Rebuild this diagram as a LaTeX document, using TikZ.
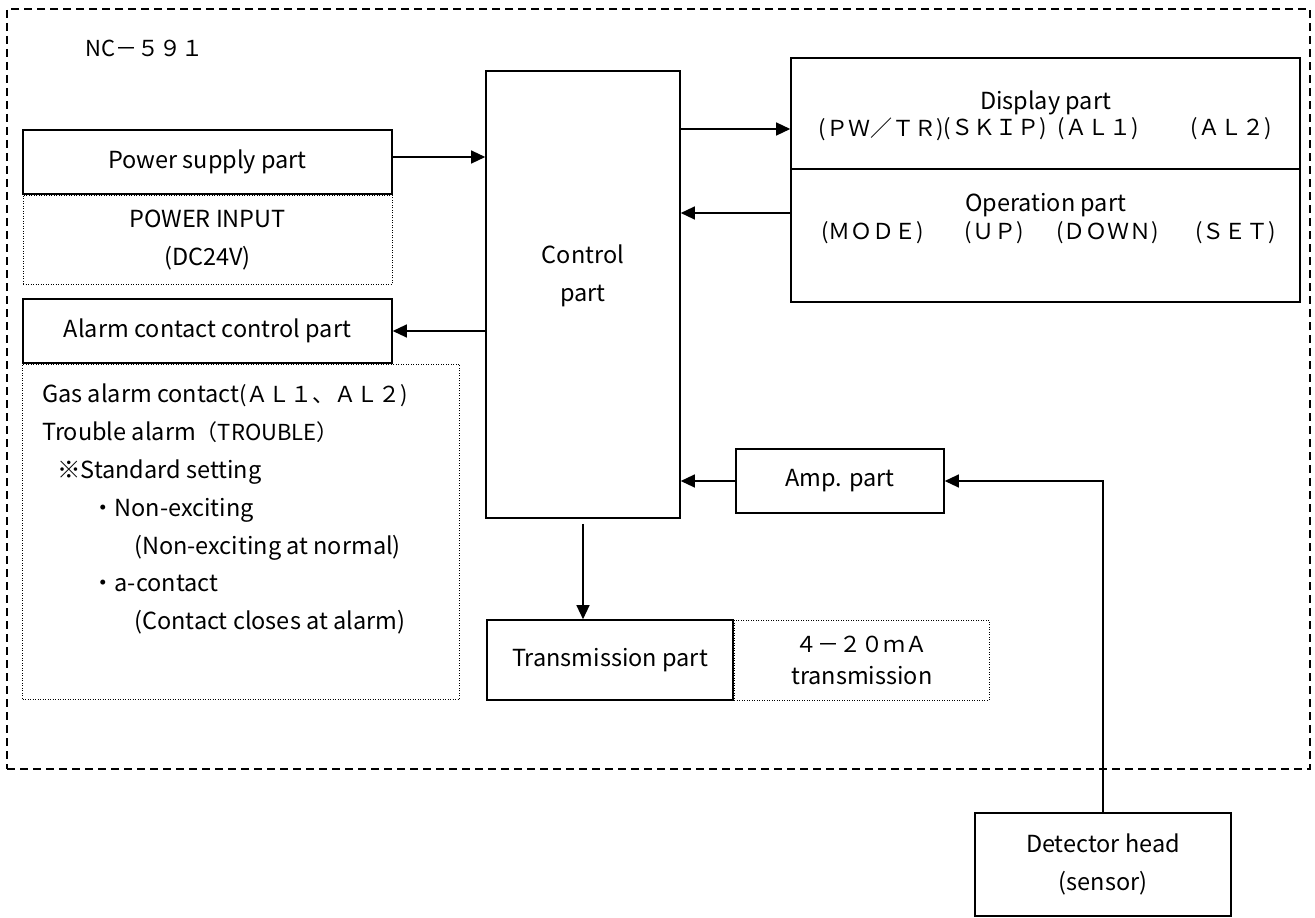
\documentclass[tikz,border=0pt]{standalone}
\usepackage{fontspec}
\newfontfamily\jpfont{Noto Sans CJK JP}
\usetikzlibrary{arrows.meta, positioning, calc}

\newcommand{\fwsize}{\fontsize{22}{33}\selectfont}

\begin{document}
\begin{tikzpicture}[
    x=1pt, y=-1pt,
    every node/.style={font=\jpfont\fontsize{23.5}{38}\selectfont, inner sep=0pt},
    box/.style={draw, line width=1.6pt, align=center},
    note/.style={draw, line width=1pt, dash pattern=on 1pt off 1.5pt, align=center},
    frame/.style={draw, line width=1.3pt, dash pattern=on 8pt off 5pt},
    keys/.style={font=\jpfont\fwsize},
    link/.style={-{Triangle[length=14pt, width=13pt]}, line width=1.3pt}
]
\useasboundingbox (0,0) rectangle (1315,918);

% Unit frame
\node[frame, minimum width=1303pt, minimum height=760pt] (unit) at (658.5,389) {};
\node[keys, anchor=west] (model) at (85,48) {NC－５９１};

% Power supply
\node[box, minimum width=369pt, minimum height=64pt] (power) at (207.5,162) {Power supply part};
\node[note, minimum width=369pt, minimum height=89pt, below=0pt of power] (powerin) {POWER INPUT\\(DC24V)};

% Alarm contacts
\node[box, minimum width=369pt, minimum height=64pt] (alarm) at (207.5,331) {Alarm contact control part};
\node[note, minimum width=437pt, minimum height=335pt, anchor=north west] (alarmnote) at (alarm.south west) {};
\node[anchor=north west, align=left, font=\jpfont\fontsize{23.5}{37.8}\selectfont] (alarmtext) at (42,384) {
Gas alarm contact{\fwsize(ＡＬ１、ＡＬ２)}\\
Trouble alarm{\fwsize（TROUBLE）}\\
\hspace*{15pt}※Standard setting\\
\hspace*{49pt}・Non-exciting\\
\hspace*{92pt}(Non-exciting at normal)\\
\hspace*{49pt}・a-contact\\
\hspace*{92pt}(Contact closes at alarm)};

% Control part
\node[box, minimum width=194pt, minimum height=447pt] (ctrl) at (583,294.5) {};
\node[align=center] (ctrllabel) at (583,276) {Control\\part};

% Display and operation
\node[box, minimum width=509pt, minimum height=111pt] (disp) at (1045.5,113.5) {};
\node (disptitle) at (1045.5,103) {Display part};
\foreach \txt/\x [count=\i] in {{(ＰＷ／ＴＲ)}/881, {(ＳＫＩＰ)}/995, {(ＡＬ１)}/1098, {(ＡＬ２)}/1231} {
    \node[keys] (dkey\i) at (\x,129) {\txt};
}
\node[box, minimum width=509pt, minimum height=133pt] (oper) at (1045.5,235.5) {};
\node (optitle) at (1045.5,205) {Operation part};
\foreach \txt/\x [count=\i] in {{(ＭＯＤＥ)}/872.5, {(ＵＰ)}/994, {(ＤＯＷＮ)}/1107.5, {(ＳＥＴ)}/1235.5} {
    \node[keys] (okey\i) at (\x,233) {\txt};
}

% Amplifier, transmission, detector
\node[box, minimum width=208pt, minimum height=64pt] (amp) at (840,481) {Amp. part};
\node[box, minimum width=246pt, minimum height=80pt] (trans) at (610,660) {Transmission part};
\node[note, minimum width=255pt, minimum height=80pt, right=0pt of trans] (transout) {{\fwsize ４－２０ｍＡ}\\[-6pt]transmission};
\node[box, minimum width=256pt, minimum height=103pt] (head) at (1103,864.5) {Detector head\\(sensor)};

% Signal flow
\coordinate (pwout) at ([yshift=5pt]power.east);
\coordinate (opout) at ([yshift=22.5pt]oper.west);
\draw[link] (pwout) -- (pwout -| ctrl.west);
\draw[link] (ctrl.east |- dkey1) -- (disp.west |- dkey1);
\draw[link] (opout) -- (opout -| ctrl.east);
\draw[link] (ctrl.west |- alarm.east) -- (alarm.east);
\draw[link] (amp.west) -- (amp.west -| ctrl.east);
\draw[link] (head.north) |- (amp.east);
\draw[link, shorten <=5pt] (ctrl.south) -- (ctrl.south |- trans.north);

\end{tikzpicture}
\end{document}
